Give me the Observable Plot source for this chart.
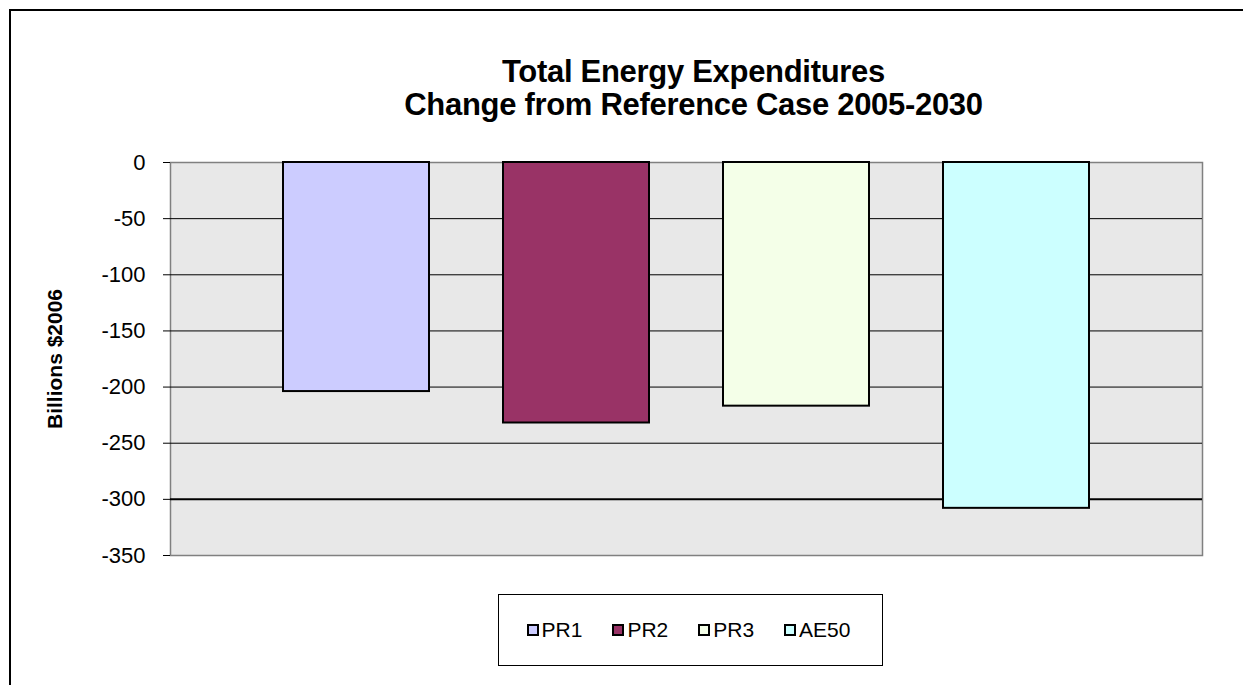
<!DOCTYPE html>
<html>
<head>
<meta charset="utf-8">
<script src="https://cdn.jsdelivr.net/npm/d3@7"></script>
<script src="https://cdn.jsdelivr.net/npm/@observablehq/plot@0.6"></script>
<style>
  html, body { margin: 0; padding: 0; background: #fff; width: 1243px; height: 685px; overflow: hidden; }
  body { font-family: "Liberation Sans", Arial, sans-serif; position: relative; }
  #border { position: absolute; left: 9px; top: 9px; width: 1300px; height: 760px; border-left: 2px solid #000; border-top: 2px solid #000; }
  #title { position: absolute; left: 0; width: 1387px; top: 55px; text-align: center; font-weight: bold; font-size: 31px; line-height: 33px; letter-spacing: -0.3px; color: #000; }
  #chart { position: absolute; left: 0; top: 140px; }
  #legend { position: absolute; left: 498px; top: 594px; width: 385px; height: 72px; box-sizing: border-box; border: 1px solid #000; background: #fff;
            display: flex; align-items: center; justify-content: center; gap: 30px; padding-right: 4px; }
  .item { display: flex; align-items: center; font-size: 21px; color: #000; }
  .sw { width: 12px; height: 12px; box-sizing: border-box; border: 2px solid #000; margin-right: 3px; }
</style>
</head>
<body>
<div id="border"></div>
<div id="title">Total Energy Expenditures<br>Change from Reference Case 2005-2030</div>
<div id="chart"></div>
<div id="legend"></div>
<script>
const scenarios = ["PR1", "PR2", "PR3", "AE50"];
const expenditureChange = [-204, -232, -217, -308];
const barColors = ["#ccccff", "#993366", "#f4ffe8", "#ccffff"];
const yTicks = [0, -50, -100, -150, -200, -250, -300, -350];
const gridTicks = [-50, -100, -150, -200, -250, -300];
const yLabel = "Billions $2006";

const data = scenarios.map((s, i) => ({name: s, value: expenditureChange[i]}));

const chart = Plot.plot({
  width: 1243,
  height: 440,
  marginTop: 22,
  marginBottom: 25,
  marginLeft: 170,
  marginRight: 41,
  style: {fontFamily: "'Liberation Sans', Arial, sans-serif", background: "transparent"},
  x: {domain: scenarios, padding: 0.335, insetLeft: 38, insetRight: 37, axis: null},
  y: {domain: [-350, 0], axis: null},
  color: {domain: scenarios, range: barColors},
  marks: [
    Plot.frame({fill: "#e8e8e8", stroke: "#808080", strokeWidth: 1.5}),
    Plot.ruleY(gridTicks, {stroke: "#000", strokeWidth: d => d === -300 ? 2 : 1}),
    Plot.barY(data, {x: "name", y: "value", fill: "name", stroke: "#000", strokeWidth: 2}),
    Plot.axisY({ticks: yTicks, tickFormat: d => String(d), tickSize: 7, tickPadding: 18, fontSize: 22, label: null, stroke: "#000", color: "#000"}),
    Plot.ruleX([0], {x: () => null, frameAnchor: "left", stroke: "#000", strokeWidth: 1.5}),
    Plot.text([yLabel], {text: d => d, frameAnchor: "left", textAnchor: "middle", dx: -115, rotate: -90, fontSize: 21, fontWeight: "bold", fill: "#000"})
  ]
});
document.getElementById("chart").appendChild(chart);

const legend = d3.select("#legend");
scenarios.forEach((s, i) => {
  const it = legend.append("div").attr("class", "item");
  it.append("div").attr("class", "sw").style("background", barColors[i]);
  it.append("span").text(s);
});
</script>
</body>
</html>
